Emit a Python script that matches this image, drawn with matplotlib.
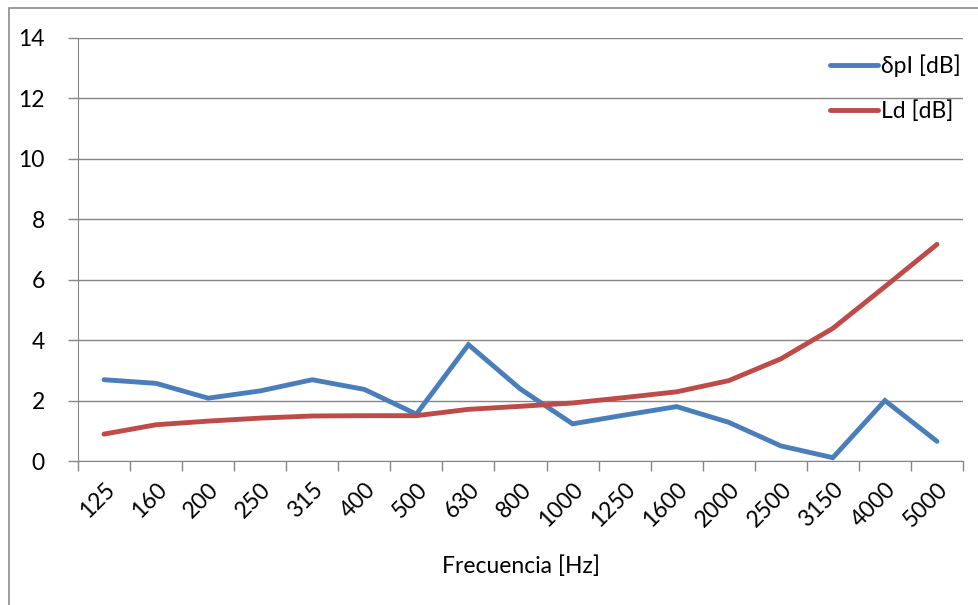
import numpy as np
import matplotlib.pyplot as plt
from matplotlib.patches import Rectangle

freqs = ["125", "160", "200", "250", "315", "400", "500", "630", "800", "1000",
         "1250", "1600", "2000", "2500", "3150", "4000", "5000"]
dpi_vals = [2.69, 2.57, 2.08, 2.32, 2.69, 2.37, 1.55, 3.85, 2.38, 1.23,
            1.52, 1.80, 1.28, 0.50, 0.11, 2.00, 0.65]
ld_vals = [0.89, 1.20, 1.32, 1.42, 1.49, 1.50, 1.50, 1.71, 1.81, 1.92,
           2.10, 2.29, 2.66, 3.38, 4.39, 5.77, 7.17]

plt.rcParams["font.family"] = ["Lato", "DejaVu Sans"]
fs = 16.5

grid_c = "#868686"
fig = plt.figure(figsize=(9.79, 6.05), dpi=100)
fig.patches.append(Rectangle((9/979, -0.1), 1.2, 1 - 8/605 + 0.1, transform=fig.transFigure,
                             fill=False, edgecolor="#8c8c8c", linewidth=1.2))
ax = fig.add_axes([78/979, 1 - 461/605, (963 - 78)/979, (461 - 38)/605])

x = np.arange(len(freqs))
ax.plot(x, dpi_vals, color="#4A7EBB", lw=3.5, solid_capstyle="round", solid_joinstyle="miter", label="δpI [dB]")
ax.plot(x, ld_vals, color="#BE4B48", lw=3.5, solid_capstyle="round", solid_joinstyle="miter", label="Ld [dB]")

ax.set_xlim(-0.5, len(freqs) - 0.5)
ax.set_ylim(0, 14)
ax.set_yticks(np.arange(0, 15, 2))
ax.yaxis.grid(True, color=grid_c, lw=1)
ax.set_axisbelow(True)
for s in ["top", "right"]:
    ax.spines[s].set_visible(False)
for s in ["left", "bottom"]:
    ax.spines[s].set_color(grid_c)
ax.tick_params(axis="y", colors=grid_c, length=7, width=1, labelcolor="black", labelsize=fs, pad=17)

ax.set_xticks(x)
ax.set_xticklabels(freqs, rotation=45, ha="right", rotation_mode="anchor", fontsize=fs)
ax.set_xticks(np.arange(-0.5, len(freqs)), minor=True)
ax.tick_params(axis="x", which="major", length=0, pad=13)
ax.tick_params(axis="x", which="minor", colors=grid_c, length=7, width=1)
ax.set_xlabel("Frecuencia [Hz]", fontsize=fs, labelpad=17)

ax.legend(loc="upper left", bbox_to_anchor=(830/979, 1 - 54/605), bbox_transform=fig.transFigure,
          frameon=False, fontsize=fs, handlelength=2.1, handletextpad=0.12, labelspacing=1.05,
          borderpad=0, borderaxespad=0)

fig.savefig("out.png", dpi=100)
